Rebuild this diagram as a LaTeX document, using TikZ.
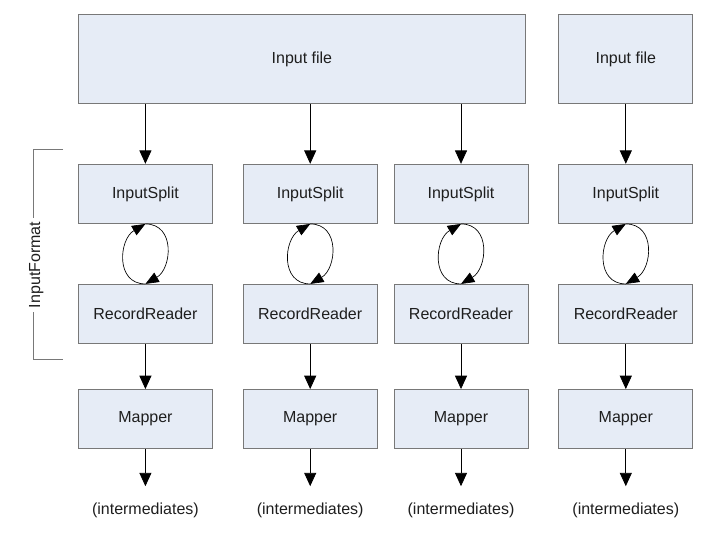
\documentclass[tikz,border=0pt]{standalone}
\usepackage{fontspec}
\setmainfont{Liberation Sans}
\usepackage{tikz}
\usetikzlibrary{arrows.meta, positioning}
\definecolor{boxfill}{RGB}{230,236,246}
\definecolor{boxline}{RGB}{120,120,120}
\definecolor{textdark}{RGB}{30,30,30}
\tikzset{
  stage/.style={rectangle, draw=boxline, fill=boxfill,
    minimum width=100.5pt, minimum height=44.5pt, inner sep=0pt,
    font=\fontsize{12pt}{14pt}\selectfont, text=textdark, line width=0.6pt},
  filebox/.style={stage, minimum height=66.75pt},
  outlabel/.style={minimum height=36pt, inner sep=0pt,
    font=\fontsize{12pt}{14pt}\selectfont, text=textdark},
  arrow/.style={-{Triangle[length=10pt, width=9pt]}, line width=0.6pt, color=black},
  looparrow/.style={-{Triangle[length=10pt, width=8pt]}, line width=0.5pt, color=black},
  bracket/.style={line width=0.6pt, color=boxline}
}

\begin{document}
\begin{tikzpicture}[node distance=45pt]
  \useasboundingbox (0,0) rectangle (542.25pt,-406.5pt);

  \node[filebox, minimum width=335.25pt, anchor=north west] (file1) at (58.5pt,-10.5pt) {Input file};

  \node[stage, below=45pt of file1.south west, anchor=north west] (split1) {InputSplit};
  \node[stage, right=22.5pt of split1] (split2) {InputSplit};
  \node[stage, right=12pt of split2] (split3) {InputSplit};
  \node[stage, right=22.5pt of split3] (split4) {InputSplit};
  \node[filebox, above=45pt of split4] (file2) {Input file};

  \foreach \i in {1,...,4} {
    \node[stage, below=45pt of split\i] (reader\i) {RecordReader};
    \node[stage, below=33.75pt of reader\i] (map\i) {Mapper};
    \node[outlabel, below=27.75pt of map\i] (inter\i) {(intermediates)};

    \draw[looparrow] (reader\i.north) to[out=180, in=210, looseness=1.3] (split\i.south);
    \draw[looparrow] (split\i.south) to[out=0, in=30, looseness=1.3] (reader\i.north);
    \draw[arrow] (reader\i) -- (map\i);
    \draw[arrow] (map\i) -- (inter\i);
  }

  \foreach \i in {1,2,3}
    \draw[arrow] (split\i |- file1.south) -- (split\i);
  \draw[arrow] (file2) -- (split4);

  \draw[bracket] ([xshift=-11.25pt, yshift=10.5pt]split1.north west) -- ++(-22.5pt,0)
    |- ([xshift=-11.25pt, yshift=-11.25pt]reader1.south west)
    node[pos=0.275, xshift=2.5pt, rotate=90, fill=white, inner sep=3pt,
      font=\fontsize{12pt}{14pt}\selectfont, text=textdark] (fmt) {InputFormat};
\end{tikzpicture}
\end{document}
